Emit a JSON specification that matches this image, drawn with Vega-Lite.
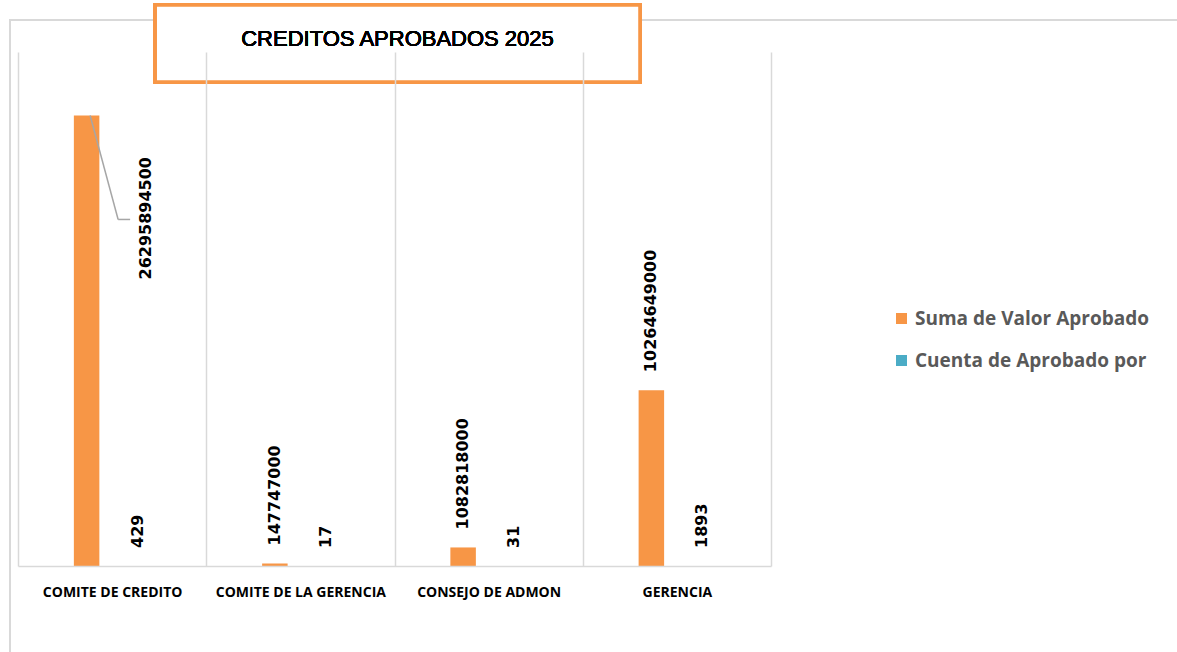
{
  "$schema": "https://vega.github.io/schema/vega-lite/v6.json",
  "width": 753,
  "height": 514,
  "padding": {"left": 9, "top": 3, "right": 0, "bottom": 0},
  "background": "white",
  "config": {"view": {"stroke": null}},
  "data": {"values": [
    {"category": "COMITE  DE CREDITO", "series": "Suma de Valor Aprobado", "value": 26295894500},
    {"category": "COMITE  DE CREDITO", "series": "Cuenta de Aprobado por", "value": 429},
    {"category": "COMITE DE LA GERENCIA", "series": "Suma de Valor Aprobado", "value": 147747000},
    {"category": "COMITE DE LA GERENCIA", "series": "Cuenta de Aprobado por", "value": 17},
    {"category": "CONSEJO DE ADMON", "series": "Suma de Valor Aprobado", "value": 1082818000},
    {"category": "CONSEJO DE ADMON", "series": "Cuenta de Aprobado por", "value": 31},
    {"category": "GERENCIA", "series": "Suma de Valor Aprobado", "value": 10264649000},
    {"category": "GERENCIA", "series": "Cuenta de Aprobado por", "value": 1893}
  ]},
  "encoding": {
    "x": {"field": "category", "type": "nominal",
      "scale": {"domain": ["COMITE  DE CREDITO", "COMITE DE LA GERENCIA", "CONSEJO DE ADMON", "GERENCIA"], "paddingInner": 0, "paddingOuter": 0},
      "axis": {"title": null, "ticks": false, "grid": true, "tickBand": "extent",
        "gridColor": "#D9D9D9", "gridWidth": 1.5, "domainColor": "#D9D9D9", "domainWidth": 1.5,
        "labelAngle": 0, "labelFont": "Open Sans", "labelFontWeight": "bold", "labelFontSize": 14,
        "labelColor": "#000000", "labelPadding": 19, "labelLimit": 300}},
    "y": {"field": "value", "type": "quantitative", "scale": {"domain": [0, 30000000000]}, "axis": null}
  },
  "layer": [
    {
      "mark": {"type": "rect", "fill": null, "stroke": "#D9D9D9", "strokeWidth": 1.5},
      "encoding": {
        "x": {"datum": "COMITE  DE CREDITO", "bandPosition": -0.0425},
        "x2": {"datum": "GERENCIA", "bandPosition": 5},
        "y": {"datum": 31870000000},
        "y2": {"datum": -6000000000}
      }
    },
    {
      "mark": {"type": "bar", "width": 25.5},
      "encoding": {
        "xOffset": {"field": "series", "type": "nominal",
          "scale": {"domain": ["Suma de Valor Aprobado", "Cuenta de Aprobado por"], "paddingInner": 0.31, "paddingOuter": 1}},
        "color": {"field": "series", "type": "nominal",
          "scale": {"domain": ["Suma de Valor Aprobado", "Cuenta de Aprobado por"], "range": ["#F79646", "#4BACC6"]},
          "legend": {"title": null, "orient": "right", "offset": -136, "padding": 257,
            "symbolType": "square", "symbolSize": 121,
            "labelFont": "Open Sans", "labelFontWeight": "bold", "labelFontSize": 19, "labelColor": "#595959",
            "rowPadding": 22, "labelLimit": 400}}
      }
    },
    {
      "transform": [{"filter": "datum.value != 26295894500"}],
      "mark": {"type": "text", "angle": 270, "align": "left", "baseline": "middle", "dx": 18,
        "font": "DejaVu Sans", "fontWeight": "bold", "fontSize": 16, "color": "#000000"},
      "encoding": {
        "xOffset": {"field": "series", "type": "nominal",
          "scale": {"domain": ["Suma de Valor Aprobado", "Cuenta de Aprobado por"], "paddingInner": 0.31, "paddingOuter": 1}},
        "text": {"field": "value", "type": "nominal"}
      }
    },
    {
      "transform": [{"filter": "datum.value == 26295894500"}],
      "mark": {"type": "text", "angle": 270, "align": "left", "baseline": "middle", "dx": -164, "dy": 59,
        "font": "DejaVu Sans", "fontWeight": "bold", "fontSize": 16, "color": "#000000"},
      "encoding": {
        "xOffset": {"field": "series", "type": "nominal",
          "scale": {"domain": ["Suma de Valor Aprobado", "Cuenta de Aprobado por"], "paddingInner": 0.31, "paddingOuter": 1}},
        "text": {"field": "value", "type": "nominal"}
      }
    },
    {
      "transform": [{"filter": "datum.value == 26295894500"}],
      "mark": {"type": "rule", "color": "#A6A6A6", "strokeWidth": 1.5, "xOffset": -22, "x2Offset": 6, "y2Offset": 104},
      "encoding": {
        "x2": {"field": "category"},
        "y2": {"field": "value"}
      }
    },
    {
      "transform": [{"filter": "datum.value == 26295894500"}],
      "mark": {"type": "rule", "color": "#A6A6A6", "strokeWidth": 1.5, "xOffset": 6, "x2Offset": 18, "yOffset": 104, "y2Offset": 104},
      "encoding": {
        "x2": {"field": "category"},
        "y2": {"field": "value"}
      }
    },
    {
      "mark": {"type": "rect", "fill": "white", "stroke": "#F79646", "strokeWidth": 3.5},
      "encoding": {
        "x": {"datum": "COMITE  DE CREDITO", "bandPosition": 0.729},
        "x2": {"datum": "GERENCIA", "bandPosition": 0.304},
        "y": {"datum": 32740000000},
        "y2": {"datum": 28250000000}
      }
    },
    {
      "mark": {"type": "text", "font": "Liberation Sans", "fontWeight": "normal", "fontSize": 22, "color": "#000000", "align": "center", "baseline": "middle"},
      "encoding": {
        "x": {"datum": "CONSEJO DE ADMON", "bandPosition": 0.016},
        "y": {"datum": 30760000000},
        "text": {"value": "CREDITOS APROBADOS 2025"}
      }
    }
  ]
}
